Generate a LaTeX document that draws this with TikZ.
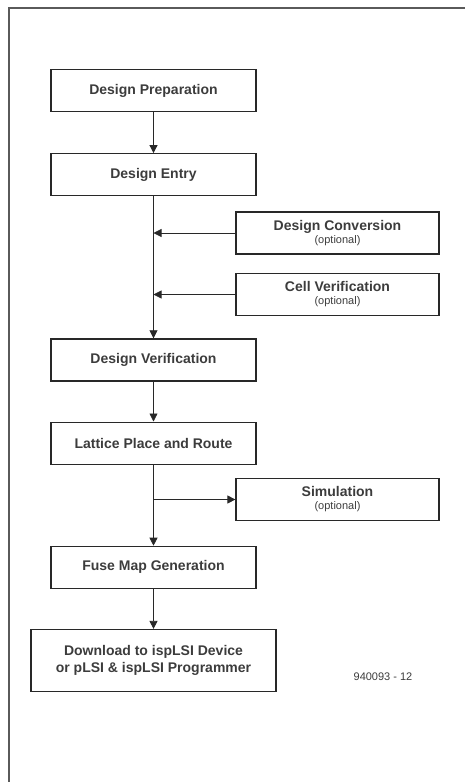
\documentclass[tikz,border=0pt]{standalone}
\usepackage{fontspec}
\setmainfont{Liberation Sans}
\usetikzlibrary{arrows.meta, positioning, calc}
\definecolor{ink}{RGB}{40,40,40}
\definecolor{txt}{RGB}{60,60,60}
\definecolor{frame}{RGB}{90,90,90}

\begin{document}
\begin{tikzpicture}[x=1pt, y=-1pt, font=\fontsize{14}{17}\selectfont\bfseries, node distance=41pt]
  \tikzset{
    stepbox/.style={draw=ink, line width=1.2pt, text=txt, minimum width=205pt,
      minimum height=42pt, align=center, inner sep=0pt},
    optbox/.style={stepbox, minimum width=203pt},
    flow/.style={-{Triangle[length=8pt, width=8pt]}, ink, line width=0.8pt}
  }
  \useasboundingbox (0,0) rectangle (465,782);
  % open frame
  \draw[frame, line width=1.4pt] (9,782) -- (9,8) -- (465,8);

  \node[stepbox] (prep) at (153.5, 90.5) {Design Preparation};
  \node[stepbox, below=of prep] (entry) {Design Entry};
  \node[stepbox, below=142pt of entry] (verif) {Design Verification};
  \node[stepbox, below=40pt of verif] (lattice) {Lattice Place and Route};
  \node[stepbox, below=81pt of lattice] (fuse) {Fuse Map Generation};
  \node[stepbox, minimum width=245pt, minimum height=62pt, below=40pt of fuse] (download)
    {Download to ispLSI Device\\or pLSI \& ispLSI Programmer};

  \node[optbox] (conv) at (337.5, 233)
    {Design Conversion\\[-4pt]{\fontsize{11}{12}\selectfont\mdseries (optional)}};
  \node[optbox] (cell) at (337.5, 294.5)
    {Cell Verification\\[-4pt]{\fontsize{11}{12}\selectfont\mdseries (optional)}};
  \node[optbox] (sim) at (337.5, 499.5)
    {Simulation\\[-4pt]{\fontsize{11}{12}\selectfont\mdseries (optional)}};

  \node[text=txt, font=\fontsize{11}{12}\selectfont] (code) at (383, 677) {940093 - 12};

  \coordinate (j1) at (entry.south |- conv.west);
  \coordinate (j2) at (entry.south |- cell.west);
  \coordinate (j3) at (lattice.south |- sim.west);

  \draw[flow] (prep) -- (entry);
  \draw[flow] (entry) -- (verif);
  \draw[flow] (conv) -- (j1);
  \draw[flow] (cell) -- (j2);
  \draw[flow] (verif) -- (lattice);
  \draw[flow] (lattice) -- (fuse);
  \draw[flow] (j3) -- (sim);
  \draw[flow] (fuse) -- (download);
\end{tikzpicture}
\end{document}
